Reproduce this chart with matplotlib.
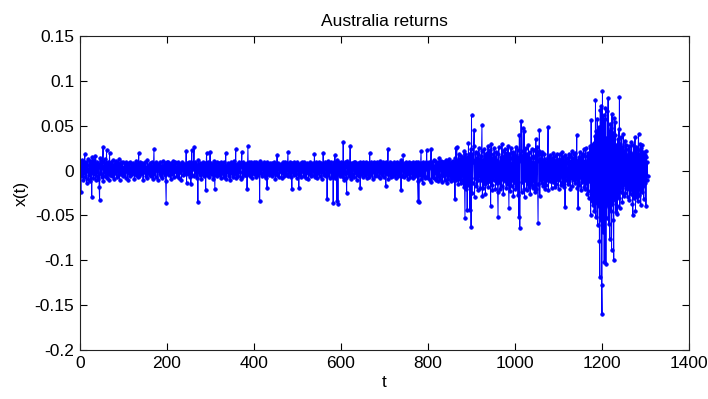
import numpy as np
import matplotlib
matplotlib.use("Agg")
import matplotlib.pyplot as plt

plt.rcParams['font.family'] = ['Liberation Sans', 'DejaVu Sans']

# Daily returns, in thousandths (x 1e-3), t = 1, 2, ...
x_permil = [
    3, -24, 8, -6, 12, -3, 5, -11, 9, -2, 18, -7, 4, 10, -14, 6, -1, 13, -9, 2,
    -5, 11, 7, -12, 4, 9, -30, 15, -3, 6, -8, 12, -4, 1, 16, -10, 5, -6, 9, -2,
    7, -9, 4, -18, -33, 14, 6, -4, 11, -7, 3, 9, 26, -12, 5, -2, 13, -6, 8, 1,
    23, -8, 5, -3, 10, -11, 4, 20, -5, 7, -2, 9, -6, 3, 12, -4, 6, -9, 2, 8,
    -3, 6, 11, -7, 4, -1, 8, -5, 13, 2, -10, 5, 7, -4, 9, -2, 3, 10, -6, 4,
    1, -5, 7, 3, -8, 9, -2, 6, 4, -11, 5, 8, -3, 2, 10, -6, 3, -1, 7, -4,
    5, 8, -3, 4, -9, 6, 2, -5, 11, 3, -2, 7, -7, 4, 20, -6, 3, 9, -4, 1,
    6, -3, 8, 2, -10, 5, 7, -2, 4, 9, -6, 3, 1, -8, 12, 4, -3, 6, 2, -5,
    8, 3, -6, 5, 10, -2, 4, -9, 7, 24, -4, 6, 2, -7, 9, 3, -1, 5, -11, 6,
    2, 7, -4, 9, 3, -6, 5, 1, -8, 11, 4, -3, 6, 2, -5, 8, -12, -36, 10, 4,
    -3, 6, 9, -5, 2, 7, -1, 4, -9, 8, 3, -4, 11, 5, -2, 6, -7, 3, 9, -1,
    4, -6, 8, 2, -3, 10, 5, -8, 3, 7, -2, 6, -10, 4, 9, 1, -5, 7, 3, -4,
    6, 2, -3, 22, -14, 5, 8, -4, 3, 10, -2, 6, 4, -7, -15, 9, 23, -5, 2, 7,
    3, 26, -6, 4, 9, -3, 7, 1, -8, 5, -35, 12, 4, -2, 8, -5, 6, 3, -9, 7,
    2, -4, 9, 5, -6, 3, 8, -3, -22, 6, 20, -5, 4, 10, -2, 7, -7, 3, 21, -4,
    5, 8, -3, 6, 2, -9, 4, 11, -5, -20, 7, 3, -2, 9, -6, 5, 1, -4, 8, 3,
    -5, 7, 4, -8, 10, 2, -3, 6, -1, 9, -7, 4, 2, -5, 20, -9, 6, 3, -2, 8,
    4, -6, 7, 2, -10, 5, 9, -3, 6, 1, -7, 8, 3, -4, 11, -2, 5, 24, -8, 6,
    -3, 7, 2, -6, 9, 4, -2, 6, -9, 5, 8, 21, -7, 3, 10, -4, 6, 1, -5, 7,
    3, -5, 8, -21, 6, 27, -4, 9, 2, -6, 5, 7, -3, 10, 4, -8, 6, 2, -4, 9,
    -2, 6, 4, -7, 9, 3, -5, 8, 1, -4, 7, 5, -34, 11, 4, -3, 8, -6, 2, 6,
    5, -3, 9, 2, -6, 7, 4, -8, 6, -19, 10, 3, -2, 7, -5, 4, 8, -3, 5, 1,
    -6, 8, 3, -4, 9, 5, -2, 7, -9, 4, 6, -3, 17, -5, 2, 8, 4, -7, 6, 3,
    -2, 7, 5, -8, 4, 9, -3, 6, 2, -6, 10, 4, -4, 7, 1, -5, 8, 21, -6, 3,
    6, -3, 9, 4, -7, 5, -21, 8, 3, -2, 7, -5, 10, 2, -4, 6, 4, -8, 9, 2,
    -4, 7, -19, 6, 3, -5, 8, 2, -7, 9, 4, -2, 6, -6, 10, 3, -3, 7, 5, -8,
    4, 8, -3, 6, -9, 5, 2, -4, 9, 3, -6, 7, 1, -5, 8, 4, -2, 6, 18, -7,
    3, -4, 9, 6, -8, 2, 7, -3, 5, 10, -6, 4, -2, 8, 3, -9, 6, 1, 20, -5,
    7, -3, 5, 9, -6, 2, 8, -32, 11, 4, -5, 7, 3, -8, 6, 10, -2, 5, -7, 4,
    6, -36, 9, 3, -5, 17, -8, 4, 7, -34, 12, 5, -37, 10, -4, 8, 2, -6, 9, 3,
    -5, 8, 4, -7, 32, -10, 6, 3, -4, 9, 5, -8, -25, 11, 4, -3, 7, 2, -6, 8,
    27, -9, 5, 3, -6, 8, 2, -4, 10, 6, -7, 4, 9, -3, 5, -10, 7, 3, -5, 8,
    4, -6, 9, -19, 7, 3, -4, 8, 5, -7, 10, 2, -3, 6, 8, -5, 4, 9, -8, 3,
    6, -4, 8, 2, -7, 20, -5, 9, 4, -3, 7, 3, -9, 6, 10, -2, 5, -6, 8, 2,
    -4, 9, 5, -6, 3, 8, -2, 6, -8, 11, 4, -3, 7, 2, -5, 9, 3, -7, 6, 4,
    -3, 8, -17, 10, 5, -4, 7, 24, -9, 6, 3, -5, 9, 2, -7, 8, 4, -3, 6, -6,
    5, 9, -4, 7, 2, -8, 6, 10, -3, 5, 4, -6, 8, 3, -5, 7, 9, -22, 12, 3,
    -6, 6, 17, -7, 4, 8, -3, 5, 9, -5, 3, 7, -9, 6, 2, -4, 10, 5, -7, 4,
    8, -3, 6, 2, -8, 9, 4, -5, 7, 3, -6, 10, 5, -4, 8, -12, -34, 9, -35, 6,
    3, -5, 8, 22, -9, 6, 4, -14, 10, 3, -6, 7, 5, -8, 9, 2, 23, -7, 6, 4,
    -8, 10, 5, -11, 7, 3, 24, -13, 6, 9, -7, 4, 12, -8, 5, -3, 11, 6, -10, 8,
    3, -12, 9, 5, -7, 14, 2, -9, 8, 11, -5, 6, -13, 10, 4, -6, 9, 3, -11, 7,
    12, -4, 8, -14, 6, 10, -9, 5, 13, -6, 3, 9, -12, 7, 4, -8, 11, 2, -10, 6,
    9, -32, 14, 25, -11, 26, -7, 12, 5, -15, 18, -9, 7, 13, -14, 6, 16, -10, 11, -6,
    14, -18, 22, -12, -53, 19, 8, -21, 15, -44, 12, -16, 31, -9, 18, -44, 10, 24, -63, 62,
    -25, 18, -14, 9, 27, 45, -30, 12, -8, 21, -17, 14, 6, -22, 19, -11, 25, -6, 13, -19,
    16, -10, 22, 51, -28, 12, -19, 8, 24, -15, 11, -26, 18, 5, -13, 20, -9, 27, -18, 10,
    -12, 23, 8, -40, 30, -16, 14, -22, 9, 19, -11, 25, -7, 15, -20, 6, 21, -14, 12, -24,
    -52, 18, 26, -13, 9, -21, 15, 7, -17, 30, -9, 22, -26, 11, 16, -12, 24, -8, 13, -19,
    20, -15, 10, 27, -11, -42, 19, 6, -23, 14, 25, -17, 8, -10, 21, -28, 12, 17, -14, 9,
    -20, 26, 13, -18, 9, 23, -27, 15, -52, 40, -64, 18, 11, 55, -24, 16, -13, 22, 47, -21,
    44, -29, 17, -11, 25, 8, -22, 19, -15, 12, 28, -18, 7, 21, -26, 14, -9, 24, -16, 10,
    -19, 16, 23, -12, 9, -24, 14, 35, -20, 11, 26, -15, -58, 18, 22, 45, -28, 13, -10, 19,
    -14, 21, 8, -17, 12, -9, 18, 5, -20, 13, 10, -16, 7, -11, 15, 49, -22, 9, 14, -12,
    17, -8, 11, -19, 6, 14, -13, 20, -10, 8, 16, -18, 4, 12, -15, 9, 19, -11, 7, -21,
    13, -9, 18, 6, -16, 11, -7, 21, -13, 9, 15, -18, 5, 12, -41, 17, -10, 8, 14, -6,
    -15, 10, 19, -12, 7, 16, -20, 11, -8, 14, 22, -17, 6, 13, -11, 18, -14, 9, 20, -9,
    12, 40, -19, 8, -42, 15, 10, -16, 21, -7, 13, -22, 17, 6, -13, 19, -10, 24, -18, 11,
    -21, 16, 25, -14, 10, -26, 20, 13, -31, 18, -12, 27, -23, -49, 56, -34, 22, 29, -38, 26,
    31, -45, 38, -27, 79, -52, 44, -36, 58, -61, 35, -40, 49, -79, -119, 68, -55, 72, -127, -160,
    89, -68, 47, 62, -102, 58, -41, 70, -104, 36, -53, 66, -38, 81, -60, 44, -29, -76, 52, -45,
    48, -89, 63, -37, 42, -55, -100, 59, -33, 40, 54, -46, 28, -39, -48, 35, -27, 46, -31, 82,
    -42, 30, -24, 37, -19, 26, -35, 18, 41, -28, 22, -16, 33, -25, 14, 29, -21, 17, -30, 24,
    -18, 27, -33, 21, 15, -26, 32, -22, 19, -37, -50, 28, 12, -31, 24, 37, -45, 20, 26, -29,
    16, -34, 23, 41, -27, 18, -20, 30, -38, 25, 13, -24, 29, -17, 21, -32, 19, -14, 17, 22,
    -40, 15, -11, 9, -6,
]

x_ticks = [0, 200, 400, 600, 800, 1000, 1200, 1400]
y_ticks = [-0.2, -0.15, -0.1, -0.05, 0, 0.05, 0.1, 0.15]
y_tick_labels = ['-0.2', '-0.15', '-0.1', '-0.05', '0', '0.05', '0.1', '0.15']

values = np.array(x_permil) / 1000.0
t = np.arange(1, len(values) + 1)

fig = plt.figure(figsize=(7.08, 3.99), dpi=100)
ax = fig.add_axes([80 / 708, 49 / 399, 609 / 708, 314 / 399])

ax.plot(t, values, color='#0000ff', linewidth=0.7, marker='.', markersize=5,
        markeredgewidth=0.6)

ax.set_xlim(0, 1400)
ax.set_ylim(-0.2, 0.15)
ax.set_xticks(x_ticks)
ax.set_xticklabels([str(v) for v in x_ticks])
ax.set_yticks(y_ticks)
ax.set_yticklabels(y_tick_labels)

ax.tick_params(direction='in', length=5, width=0.8, top=True, right=True,
               labelsize=12.5, pad=4, colors='black')
for sp in ax.spines.values():
    sp.set_linewidth(0.8)
    sp.set_color('#222222')

ax.set_title('Australia returns', fontsize=12.5, pad=7)
ax.set_xlabel('t', fontsize=12.5, labelpad=3)
ax.set_ylabel('x(t)', fontsize=12.5, labelpad=4)

fig.savefig('out.png', dpi=100)
